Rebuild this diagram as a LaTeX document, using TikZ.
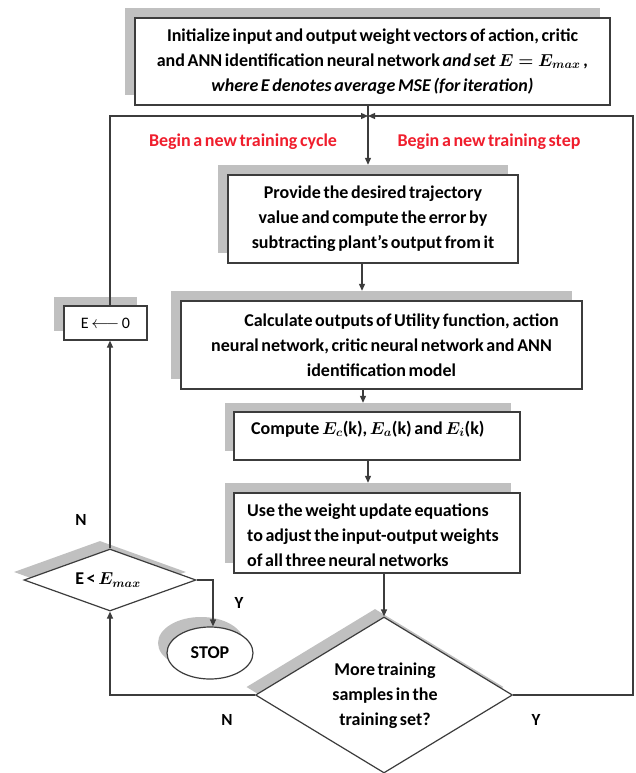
\documentclass[tikz,border=0pt]{standalone}
\usepackage{fontspec}
\setmainfont{Carlito}[WordSpace=0.65]
\usepackage{bm}
\usetikzlibrary{shapes.geometric,arrows.meta,calc}
\definecolor{ln}{RGB}{60,60,60}
\definecolor{shd}{RGB}{192,192,192}
\definecolor{redt}{RGB}{240,30,45}
\begin{document}
\begin{tikzpicture}[x=1pt,y=-1pt,
  every node/.style={font=\fontsize{18}{25}\selectfont\bfseries, text=black},
  box/.style={draw=ln, line width=1.2pt, fill=white, inner sep=0pt},
  shbox/.style={fill=shd, inner sep=0pt},
  dia/.style={diamond, draw=ln, line width=1.2pt, fill=white, inner sep=0pt},
  shdia/.style={diamond, fill=shd, inner sep=0pt},
  arr/.style={draw=ln, line width=1.2pt, -{Triangle[length=7pt,width=6pt]}},
  redlab/.style={text=redt, font=\fontsize{18}{20}\selectfont\bfseries},
  yn/.style={font=\fontsize{17}{20}\selectfont\bfseries}
]
\useasboundingbox (0,0) rectangle (635,773);
\fill[white] (0,0) rectangle (635,773);

% ---- shadows
\node[shbox, minimum width=475, minimum height=87] (inits) at (362.5,51.5) {};
\node[shbox, minimum width=290, minimum height=88] (provs) at (363,209) {};
\node[shbox, minimum width=401, minimum height=88] (calcs) at (371.5,335) {};
\node[shbox, minimum width=286, minimum height=48] (comps) at (368,427) {};
\node[shbox, minimum width=286, minimum height=80] (uses) at (368,523) {};
\node[shbox, minimum width=83, minimum height=34] (Eboxs) at (95.5,313.5) {};
\node[shdia, minimum width=172, minimum height=62] (dEs) at (100,572) {};
\node[ellipse, fill=shd, minimum width=86, minimum height=52, inner sep=0pt] (stops) at (201,643) {};
\node[shdia, minimum width=257, minimum height=156] (bigds) at (375,687) {};

% ---- boxes
\node[box, minimum width=475, minimum height=87, align=center] (init) at (372.5,61.5)
  {Initialize input and output weight vectors of action, critic\\
   and ANN identification neural network \textit{and set} $\bm{E=E_{max}}$\,\textit{,}\\
   \textit{where E denotes average MSE (for iteration)}};
\node[box, minimum width=290, minimum height=88, align=center] (prov) at (373,219)
  {Provide the desired trajectory\\ value and compute the error by\\ subtracting plant’s output from it};
\node[box, minimum width=401, minimum height=88, align=center] (calc) at (381.5,345)
  {\hspace*{40pt}Calculate outputs of Utility function, action\\
   neural network, critic neural network and ANN\\ identification model};
\node[box, minimum width=286, minimum height=48] (comp) at (377,436) {};
\node[anchor=west, inner sep=0pt] (comptxt) at (251,429)
  {Compute $\bm{E_c}$(k), $\bm{E_a}$(k) and $\bm{E_i}$(k)};
\node[box, minimum width=286, minimum height=80] (use) at (377,533) {};
\node[anchor=west, inner sep=0pt, align=left] (usetxt) at (247,535)
  {Use the weight update equations\\ to adjust the input-output weights\\ of all three neural networks};
\node[box, minimum width=83, minimum height=34, font=\fontsize{16}{18}\selectfont\mdseries] (Ebox) at (105.5,323)
  {E\,$\longleftarrow$\,0};
\node[dia, minimum width=172, minimum height=62] (dE) at (110,580) {};
\node[inner sep=0pt] (dEtxt) at (108,580) {E < $\bm{E_{max}}$};
\node[ellipse, draw=ln, line width=1.2pt, fill=white, minimum width=86, minimum height=52, inner sep=0pt] (stop) at (210,653) {STOP};
\node[dia, minimum width=257, minimum height=156] (bigd) at (384,695) {};
\node[align=center, inner sep=0pt] (bigdtxt) at (385,695.5) {More training\\ samples in the\\ training set?};

% ---- labels
\node[redlab] (lcyc) at (243,142) {Begin a new training cycle};
\node[redlab] (lstep) at (489,142) {Begin a new training step};
\node[yn] (n1) at (81,520) {N};
\node[yn] (y1) at (239,603) {Y};
\node[yn] (n2) at (227,720) {N};
\node[yn] (y2) at (536,720) {Y};

% ---- connectors
\coordinate (jn) at (368,116);
\draw[arr] ([xshift=-4.5pt]init.south) -- ([xshift=-4.5pt]init.south |- provs.north);
\draw[arr] ([xshift=-11pt]prov.south) -- ([xshift=-11pt]prov.south |- calcs.north);
\draw[arr] ([xshift=-18.5pt]calc.south) -- ([xshift=-18.5pt]calc.south |- comps.north);
\draw[arr] ([xshift=-9pt]comp.south) -- ([xshift=-9pt]comp.south |- uses.north);
\draw[arr] ([xshift=7pt]use.south) -- ([xshift=7pt]use.south |- bigd.north);
\draw[arr] (dE.north |- Ebox.north) -- (110,116) -- (jn);
\draw[arr] (bigd.east) -- (633,695) -- (633,116) -- (jn);
\draw[arr] (dE.north) -- (dE.north |- Ebox.south);
\draw[arr] (bigd.west) -- (bigd.west -| dE.south) -- (dE.south);
\draw[arr] (dE.east) -| ([xshift=3pt]stop.north);
\end{tikzpicture}
\end{document}
